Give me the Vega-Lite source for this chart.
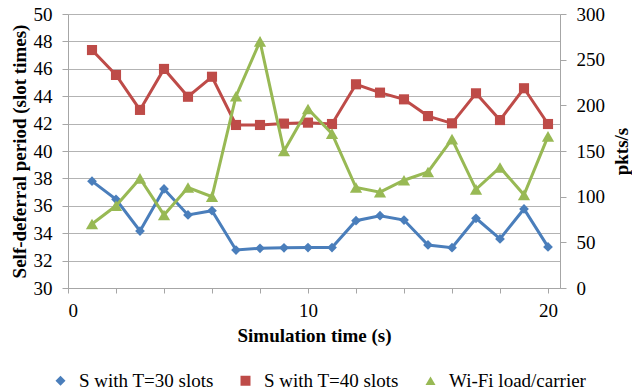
{
  "$schema": "https://vega.github.io/schema/vega-lite/v6.json",
  "autosize": "none",
  "width": 492,
  "height": 274,
  "padding": {"left": 68, "top": 14, "right": 72, "bottom": 104},
  "background": "white",
  "data": {"values": [
      {"t": 1, "series": "S with T=30 slots", "value": 37.8},
      {"t": 2, "series": "S with T=30 slots", "value": 36.47},
      {"t": 3, "series": "S with T=30 slots", "value": 34.16},
      {"t": 4, "series": "S with T=30 slots", "value": 37.23},
      {"t": 5, "series": "S with T=30 slots", "value": 35.33},
      {"t": 6, "series": "S with T=30 slots", "value": 35.64},
      {"t": 7, "series": "S with T=30 slots", "value": 32.77},
      {"t": 8, "series": "S with T=30 slots", "value": 32.9},
      {"t": 9, "series": "S with T=30 slots", "value": 32.93},
      {"t": 10, "series": "S with T=30 slots", "value": 32.95},
      {"t": 11, "series": "S with T=30 slots", "value": 32.95},
      {"t": 12, "series": "S with T=30 slots", "value": 34.91},
      {"t": 13, "series": "S with T=30 slots", "value": 35.28},
      {"t": 14, "series": "S with T=30 slots", "value": 34.96},
      {"t": 15, "series": "S with T=30 slots", "value": 33.14},
      {"t": 16, "series": "S with T=30 slots", "value": 32.94},
      {"t": 17, "series": "S with T=30 slots", "value": 35.09},
      {"t": 18, "series": "S with T=30 slots", "value": 33.58},
      {"t": 19, "series": "S with T=30 slots", "value": 35.77},
      {"t": 20, "series": "S with T=30 slots", "value": 33.0},
      {"t": 1, "series": "S with T=40 slots", "value": 47.37},
      {"t": 2, "series": "S with T=40 slots", "value": 45.55},
      {"t": 3, "series": "S with T=40 slots", "value": 43.0},
      {"t": 4, "series": "S with T=40 slots", "value": 45.99},
      {"t": 5, "series": "S with T=40 slots", "value": 43.96},
      {"t": 6, "series": "S with T=40 slots", "value": 45.42},
      {"t": 7, "series": "S with T=40 slots", "value": 41.9},
      {"t": 8, "series": "S with T=40 slots", "value": 41.9},
      {"t": 9, "series": "S with T=40 slots", "value": 42.0},
      {"t": 10, "series": "S with T=40 slots", "value": 42.07},
      {"t": 11, "series": "S with T=40 slots", "value": 41.97},
      {"t": 12, "series": "S with T=40 slots", "value": 44.87},
      {"t": 13, "series": "S with T=40 slots", "value": 44.26},
      {"t": 14, "series": "S with T=40 slots", "value": 43.77},
      {"t": 15, "series": "S with T=40 slots", "value": 42.55},
      {"t": 16, "series": "S with T=40 slots", "value": 42.02},
      {"t": 17, "series": "S with T=40 slots", "value": 44.21},
      {"t": 18, "series": "S with T=40 slots", "value": 42.26},
      {"t": 19, "series": "S with T=40 slots", "value": 44.58},
      {"t": 20, "series": "S with T=40 slots", "value": 41.97},
      {"t": 1, "series": "Wi-Fi load/carrier", "value": 70},
      {"t": 2, "series": "Wi-Fi load/carrier", "value": 90},
      {"t": 3, "series": "Wi-Fi load/carrier", "value": 120},
      {"t": 4, "series": "Wi-Fi load/carrier", "value": 80},
      {"t": 5, "series": "Wi-Fi load/carrier", "value": 110},
      {"t": 6, "series": "Wi-Fi load/carrier", "value": 100},
      {"t": 7, "series": "Wi-Fi load/carrier", "value": 210},
      {"t": 8, "series": "Wi-Fi load/carrier", "value": 270},
      {"t": 9, "series": "Wi-Fi load/carrier", "value": 150},
      {"t": 10, "series": "Wi-Fi load/carrier", "value": 196},
      {"t": 11, "series": "Wi-Fi load/carrier", "value": 169},
      {"t": 12, "series": "Wi-Fi load/carrier", "value": 110},
      {"t": 13, "series": "Wi-Fi load/carrier", "value": 105},
      {"t": 14, "series": "Wi-Fi load/carrier", "value": 118},
      {"t": 15, "series": "Wi-Fi load/carrier", "value": 127},
      {"t": 16, "series": "Wi-Fi load/carrier", "value": 163},
      {"t": 17, "series": "Wi-Fi load/carrier", "value": 108},
      {"t": 18, "series": "Wi-Fi load/carrier", "value": 132},
      {"t": 19, "series": "Wi-Fi load/carrier", "value": 102},
      {"t": 20, "series": "Wi-Fi load/carrier", "value": 166}
  ]},
  "resolve": {"scale": {"y": "independent", "color": "independent", "shape": "independent", "size": "independent"}},
  "layer": [
    {
      "transform": [{"filter": "datum.series !== 'Wi-Fi load/carrier'"}],
      "mark": {"type": "line", "strokeWidth": 3},
      "encoding": {
        "x": {
          "field": "t", "type": "quantitative",
          "scale": {"domain": [0, 20.5], "nice": false, "zero": false},
          "axis": {
            "values": [0,1,2,3,4,5,6,7,8,9,10,11,12,13,14,15,16,17,18,19,20],
            "labelExpr": "datum.value % 5 === 0 ? datum.label : ''",
            "grid": false, "tickSize": 5, "labelPadding": 8,
            "domainColor": "#A6A6A6", "tickColor": "#A6A6A6",
            "labelFont": "Liberation Serif", "labelFontSize": 19, "labelColor": "#000000",
            "title": "Simulation time (s)", "titlePadding": 6,
            "titleFont": "Liberation Serif", "titleFontSize": 19, "titleFontWeight": "bold", "titleColor": "#000000"
          }
        },
        "y": {
          "field": "value", "type": "quantitative",
          "scale": {"domain": [30, 50], "nice": false, "zero": false},
          "axis": {
            "values": [30,32,34,36,38,40,42,44,46,48,50],
            "grid": true, "gridColor": "#B3B3B3", "tickSize": 6, "labelPadding": 10,
            "domainColor": "#A6A6A6", "tickColor": "#A6A6A6",
            "labelFont": "Liberation Serif", "labelFontSize": 19, "labelColor": "#000000",
            "title": "Self-deferral period (slot times)", "titlePadding": 4,
            "titleFont": "Liberation Serif", "titleFontSize": 19, "titleFontWeight": "bold", "titleColor": "#000000"
          }
        },
        "color": {
          "field": "series", "type": "nominal", "legend": null,
          "scale": {"domain": ["S with T=30 slots", "S with T=40 slots", "Wi-Fi load/carrier"], "range": ["#4A7EBB", "#BE4B48", "#98B954"]}
        }
      }
    },
    {
      "transform": [{"filter": "datum.series !== 'Wi-Fi load/carrier'"}],
      "mark": {"type": "point", "filled": true, "opacity": 1, "strokeWidth": 0},
      "encoding": {
        "x": {"field": "t", "type": "quantitative"},
        "y": {
          "field": "value", "type": "quantitative",
          "scale": {"domain": [30, 50], "nice": false, "zero": false},
          "axis": null
        },
        "color": {
          "field": "series", "type": "nominal", "legend": null,
          "scale": {"domain": ["S with T=30 slots", "S with T=40 slots", "Wi-Fi load/carrier"], "range": ["#4A7EBB", "#BE4B48", "#98B954"]}
        },
        "shape": {
          "field": "series", "type": "nominal", "legend": null,
          "scale": {"domain": ["S with T=30 slots", "S with T=40 slots", "Wi-Fi load/carrier"], "range": ["diamond", "square", "triangle-up"]}
        },
        "size": {
          "field": "series", "type": "nominal", "legend": null,
          "scale": {"domain": ["S with T=30 slots", "S with T=40 slots", "Wi-Fi load/carrier"], "range": [95, 110, 150]}
        }
      }
    },
    {
      "transform": [{"filter": "datum.series === 'Wi-Fi load/carrier'"}],
      "mark": {"type": "line", "strokeWidth": 3},
      "encoding": {
        "x": {"field": "t", "type": "quantitative"},
        "y": {
          "field": "value", "type": "quantitative",
          "scale": {"domain": [0, 300], "nice": false},
          "axis": {
            "orient": "right",
            "values": [0, 50, 100, 150, 200, 250, 300],
            "grid": false, "tickSize": 6, "labelPadding": 10,
            "domainColor": "#A6A6A6", "tickColor": "#A6A6A6",
            "labelFont": "Liberation Serif", "labelFontSize": 19, "labelColor": "#000000",
            "title": "pkts/s", "titlePadding": 8, "titleAngle": -90, "titleBaseline": "top",
            "titleFont": "Liberation Serif", "titleFontSize": 19, "titleFontWeight": "bold", "titleColor": "#000000"
          }
        },
        "color": {
          "field": "series", "type": "nominal", "legend": null,
          "scale": {"domain": ["S with T=30 slots", "S with T=40 slots", "Wi-Fi load/carrier"], "range": ["#4A7EBB", "#BE4B48", "#98B954"]}
        }
      }
    },
    {
      "transform": [{"filter": "datum.series === 'Wi-Fi load/carrier'"}],
      "mark": {"type": "point", "filled": true, "opacity": 1, "strokeWidth": 0, "shape": "triangle-up", "size": 150},
      "encoding": {
        "x": {"field": "t", "type": "quantitative"},
        "y": {
          "field": "value", "type": "quantitative",
          "scale": {"domain": [0, 300], "nice": false},
          "axis": null
        },
        "color": {
          "field": "series", "type": "nominal", "legend": null,
          "scale": {"domain": ["S with T=30 slots", "S with T=40 slots", "Wi-Fi load/carrier"], "range": ["#4A7EBB", "#BE4B48", "#98B954"]}
        }
      }
    },
    {
      "transform": [{"filter": "false"}],
      "mark": {"type": "point", "filled": true, "opacity": 1, "strokeWidth": 0, "size": 100},
      "encoding": {
        "x": {"field": "t", "type": "quantitative"},
        "y": {
          "field": "value", "type": "quantitative",
          "scale": {"domain": [0, 1]},
          "axis": null
        },
        "color": {
          "field": "series", "type": "nominal",
          "scale": {"domain": ["S with T=30 slots", "S with T=40 slots", "Wi-Fi load/carrier"], "range": ["#4A7EBB", "#BE4B48", "#98B954"]},
          "legend": {
            "title": null, "orient": "none", "direction": "horizontal",
            "legendX": -17, "legendY": 357, "padding": 0,
            "symbolOpacity": 1, "symbolSize": 100, "symbolStrokeWidth": 0,
            "labelFont": "Liberation Serif", "labelFontSize": 19, "labelColor": "#000000",
            "labelOffset": 9, "columnPadding": 22
          }
        },
        "shape": {
          "field": "series", "type": "nominal",
          "scale": {
            "domain": ["S with T=30 slots", "S with T=40 slots", "Wi-Fi load/carrier"],
            "range": ["diamond", "square", "triangle-up"]
          }
        }
      }
    }
  ]
}
